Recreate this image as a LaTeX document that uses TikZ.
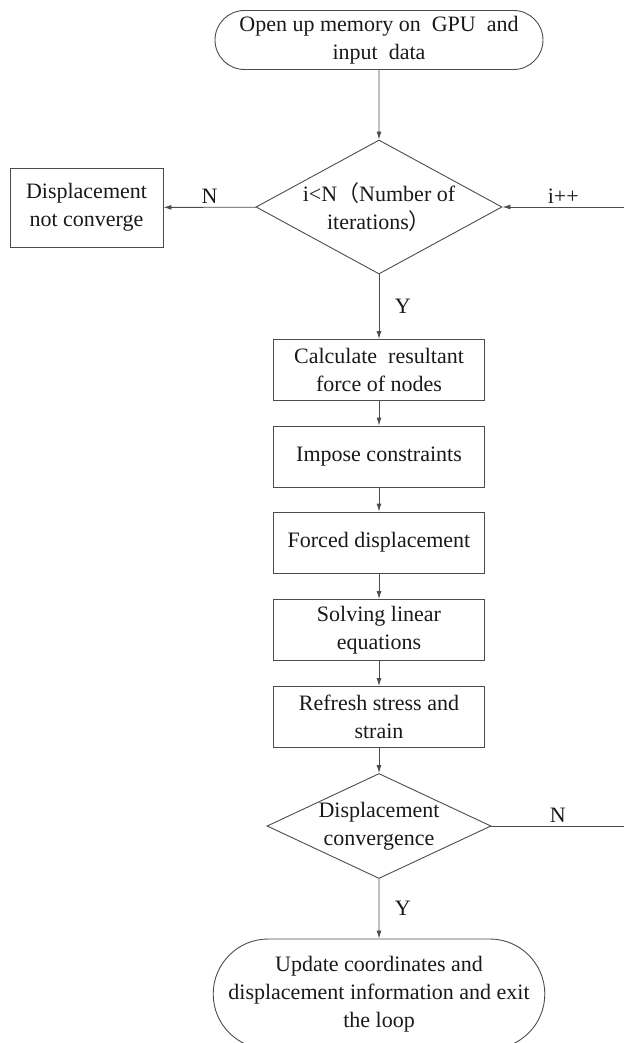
\documentclass[tikz,border=0pt]{standalone}
\usepackage{fontspec}
\setmainfont{Liberation Serif}
\newfontfamily\cjk{Noto Sans CJK SC}
\usetikzlibrary{shapes.geometric,shapes.misc,arrows.meta}
\begin{document}
\begin{tikzpicture}[x=1pt,y=-1pt,
    every node/.style={font=\fontsize{22}{28}\selectfont, text=black!90},
    line/.style={draw=black!70, line width=0.9pt},
    arr/.style={line, -{Latex[length=8pt,width=5pt]}},
    terminal/.style={line, rounded rectangle, minimum width=328pt, align=center, inner sep=0pt},
    process/.style={line, rectangle, minimum width=211pt, minimum height=61pt, align=center, inner sep=0pt},
    decision/.style={line, diamond, align=center, inner sep=0pt}]
  \useasboundingbox (0,0) rectangle (624,1043);
  \draw
    (379,40) node[terminal, minimum height=59pt] (start){Open up memory on\ \ GPU\ \ and\\input\ \ data}
    (379,207) node[decision, aspect=1.84, minimum width=246pt, minimum height=134pt] (cond1){i<N{\cjk（}Number of\\iterations{\cjk）}}
    (86.5,207.5) node[process, minimum width=153pt, minimum height=79pt] (notconv){Displacement\\not converge}
    (379,370) node[process] (calc){Calculate\ \ resultant\\force of nodes}
    (379,456.5) node[process] (impose){Impose constraints}
    (379,542.5) node[process] (forced){Forced displacement}
    (379,630) node[process] (solving){Solving linear\\equations}
    (379,717) node[process] (refresh){Refresh stress and\\strain}
    (379,826) node[decision, aspect=2.13, minimum width=224pt, minimum height=105pt] (cond2){Displacement\\convergence}
    (379,994) node[terminal, minimum width=327pt, minimum height=110pt] (stop){Update coordinates and\\displacement information and exit\\the loop};
  \coordinate (loopin) at (624,207);
  \coordinate (loopout) at (624,826);
  \begin{scope}[arr]
    \draw (start) to (cond1);
    \draw (cond1) to node[midway, right=12pt] (yes1){Y} (calc);
    \draw (cond1) to node[midway, above] (no1){N} (notconv);
    \draw (calc) to (impose);
    \draw (impose) to (forced);
    \draw (forced) to (solving);
    \draw (solving) to (refresh);
    \draw (refresh) to (cond2);
    \draw (cond2) to node[midway, right=12pt] (yes2){Y} (stop);
    \draw (loopin) to node[midway, above] (inc){i++} (cond1.east);
  \end{scope}
  \draw[line] (cond2.east) to node[midway, above] (no2){N} (loopout);
\end{tikzpicture}
\end{document}
